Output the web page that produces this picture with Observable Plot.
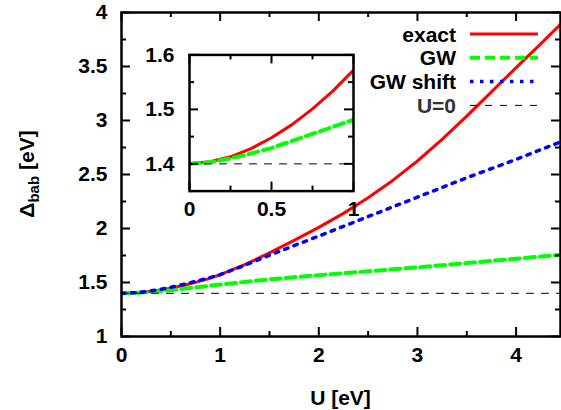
<!DOCTYPE html>
<html><head><meta charset="utf-8">
<script src="https://cdn.jsdelivr.net/npm/d3@7"></script>
<script src="https://cdn.jsdelivr.net/npm/@observablehq/plot@0.6"></script>
<style>
body{margin:0;background:#fff;}
#chart{position:relative;width:561px;height:410px;overflow:hidden;background:#fff;}
#chart svg{position:absolute;}
</style></head><body><div id="chart"></div>
<script>
// ---- data ----
const U       = [0,0.125,0.25,0.375,0.5,0.625,0.75,0.875,1,1.25,1.5,1.75,2,2.25,2.5,2.75,3,3.25,3.5,3.75,4,4.25,4.5];
const exact   = [1.400,1.404,1.413,1.428,1.448,1.472,1.501,1.534,1.572,1.665,1.775,1.89,2.01,2.14,2.285,2.445,2.625,2.825,3.04,3.265,3.49,3.71,3.935];
const gw      = [1.400,1.403,1.410,1.419,1.429,1.442,1.455,1.468,1.481,1.505,1.528,1.549,1.568,1.586,1.604,1.622,1.64,1.66,1.68,1.70,1.72,1.74,1.76];
const gwShift = [1.400,1.405,1.416,1.433,1.456,1.481,1.510,1.540,1.572,1.66,1.752,1.842,1.93,2.02,2.11,2.20,2.29,2.38,2.47,2.555,2.64,2.73,2.82];
const u0U     = [0, 4.5];
const u0Val   = [1.4, 1.4];

const seriesNames  = ["exact", "GW", "GW shift", "U=0"];
const seriesColors = ["#ff0000", "#00ff00", "#0000ff", "#000000"];

const xTicksMain  = [0,1,2,3,4];
const xMinorMain  = [0.5,1.5,2.5,3.5];
const yTicksMain  = [1,1.5,2,2.5,3,3.5,4];
const yMinorMain  = [1.25,1.75,2.25,2.75,3.25,3.75];
const xTicksInset = [0,0.5,1];
const xMinorInset = [0.25,0.75];
const yTicksInset = [1.4,1.5,1.6];
const yMinorInset = [1.35,1.45,1.55];

const xLabel = "U [eV]";
const yLabelMain = "Δ", yLabelSub = "bab", yLabelUnit = " [eV]";

// ---- tables ----
const rows = (xs, ys) => xs.map((x, i) => ({U: x, v: ys[i]}));
const exactRows = rows(U, exact);
const gwRows = rows(U, gw);
const gwShiftRows = rows(U, gwShift);
const u0Rows = rows(u0U, u0Val);

const FONT = "'Liberation Sans', Arial, Helvetica, sans-serif";
const FS = 21, FW = "bold";
const styles = {
  exact:   {stroke: seriesColors[0], strokeWidth: 3},
  gw:      {stroke: seriesColors[1], strokeWidth: 4, strokeDasharray: "10,5"},
  gwShift: {stroke: seriesColors[2], strokeWidth: 3.5, strokeDasharray: "3.5,6.5"},
  u0:      {stroke: seriesColors[3], strokeWidth: 1, strokeDasharray: "7,8"}
};

function ticks(xMaj, xMin, yMaj, yMin, pw, ph, major, minor) {
  const tw = 2;
  return [
    Plot.tickX(xMaj, {x: d => d, insetTop: ph - major, stroke: "black", strokeWidth: tw}),
    Plot.tickX(xMaj, {x: d => d, insetBottom: ph - major, stroke: "black", strokeWidth: tw}),
    Plot.tickX(xMin, {x: d => d, insetTop: ph - minor, stroke: "black", strokeWidth: tw}),
    Plot.tickX(xMin, {x: d => d, insetBottom: ph - minor, stroke: "black", strokeWidth: tw}),
    Plot.tickY(yMaj, {y: d => d, insetRight: pw - major, stroke: "black", strokeWidth: tw}),
    Plot.tickY(yMaj, {y: d => d, insetLeft: pw - major, stroke: "black", strokeWidth: tw}),
    Plot.tickY(yMin, {y: d => d, insetRight: pw - minor, stroke: "black", strokeWidth: tw}),
    Plot.tickY(yMin, {y: d => d, insetLeft: pw - minor, stroke: "black", strokeWidth: tw})
  ];
}

// ---- main plot ----
const W = 561, H = 410, mL = 121, mR = 1, mT = 12, mB = 74;
const pw = W - mL - mR, ph = H - mT - mB;
const main = Plot.plot({
  width: W, height: H, marginLeft: mL, marginRight: mR, marginTop: mT, marginBottom: mB,
  x: {domain: [0, 4.45], axis: null},
  y: {domain: [1, 4], axis: null},
  style: {fontFamily: FONT, fontSize: FS + "px", background: "white", overflow: "visible"},
  marks: [
    Plot.line(exactRows, {x: "U", y: "v", ...styles.exact, clip: true}),
    Plot.line(gwRows, {x: "U", y: "v", ...styles.gw, clip: true}),
    Plot.line(gwShiftRows, {x: "U", y: "v", ...styles.gwShift, clip: true}),
    Plot.line(u0Rows, {x: "U", y: "v", ...styles.u0, clip: true}),
    ...ticks(xTicksMain, xMinorMain, yTicksMain, yMinorMain, pw, ph, 9, 5),
    Plot.frame({stroke: "black", strokeWidth: 2.5}),
    Plot.text(xTicksMain, {x: d => d, frameAnchor: "bottom", dy: 25, text: d => String(d), fill: "black", fontSize: FS, fontWeight: FW}),
    Plot.text(yTicksMain, {y: d => d, frameAnchor: "left", dx: -14, textAnchor: "end", text: d => String(d), fill: "black", fontSize: FS, fontWeight: FW})
  ]
});
const chart = document.getElementById("chart");
main.style.left = "0px"; main.style.top = "0px";
chart.appendChild(main);

const sel = d3.select(main);
// x-axis title
sel.append("text").attr("x", mL + pw / 2).attr("y", 405).attr("text-anchor", "middle")
  .attr("font-family", FONT).attr("font-size", FS).attr("font-weight", FW).attr("fill", "black").text(xLabel);
// y-axis title with subscript
const yt = sel.append("text").attr("transform", `translate(34,${mT + ph / 2}) rotate(-90)`)
  .attr("text-anchor", "middle").attr("font-family", FONT).attr("font-size", FS).attr("font-weight", FW).attr("fill", "black");
yt.append("tspan").text(yLabelMain);
yt.append("tspan").attr("font-size", 15).attr("dy", 5).text(yLabelSub);
yt.append("tspan").attr("dy", -5).text(yLabelUnit);

// legend
const legX = 456, legY0 = 41.5, legDy = 23.8, sx1 = 470, sx2 = 538;
const legStyles = [styles.exact, styles.gw, styles.gwShift, styles.u0];
seriesNames.forEach((name, i) => {
  const by = legY0 + i * legDy;
  sel.append("text").attr("x", legX).attr("y", by).attr("text-anchor", "end")
    .attr("font-family", FONT).attr("font-size", FS).attr("font-weight", FW)
    .attr("fill", i === 3 ? "#333" : "black").text(name);
  const st = legStyles[i];
  sel.append("line").attr("x1", sx1).attr("x2", sx2).attr("y1", by - 7.5).attr("y2", by - 7.5)
    .attr("stroke", st.stroke).attr("stroke-width", st.strokeWidth)
    .attr("stroke-dasharray", st.strokeDasharray || null);
});

// ---- inset ----
const iW = 240, iH = 190, iL = 59, iR = 17, iT = 14.4, iB = 39.4;
const ipw = iW - iL - iR, iph = iH - iT - iB;
const inset = Plot.plot({
  width: iW, height: iH, marginLeft: iL, marginRight: iR, marginTop: iT, marginBottom: iB,
  x: {domain: [0, 1], axis: null},
  y: {domain: [1.35, 1.6], axis: null},
  style: {fontFamily: FONT, fontSize: FS + "px", background: "transparent", overflow: "visible"},
  marks: [
    Plot.frame({fill: "white"}),
    Plot.line(exactRows, {x: "U", y: "v", ...styles.exact, clip: true}),
    Plot.line(gwRows, {x: "U", y: "v", ...styles.gw, clip: true}),
    Plot.line(u0Rows, {x: "U", y: "v", ...styles.u0, clip: true}),
    ...ticks(xTicksInset, xMinorInset, yTicksInset, yMinorInset, ipw, iph, 9, 5),
    Plot.frame({stroke: "black", strokeWidth: 2.5}),
    Plot.text(xTicksInset, {x: d => d, frameAnchor: "bottom", dy: 24.5, text: d => String(d), fill: "black", fontSize: FS, fontWeight: FW}),
    Plot.text(yTicksInset, {y: d => d, frameAnchor: "left", dx: -15, textAnchor: "end", text: d => d.toFixed(1), fill: "black", fontSize: FS, fontWeight: FW})
  ]
});
inset.style.left = "130px"; inset.style.top = "40px";
chart.appendChild(inset);
</script>
</body></html>
